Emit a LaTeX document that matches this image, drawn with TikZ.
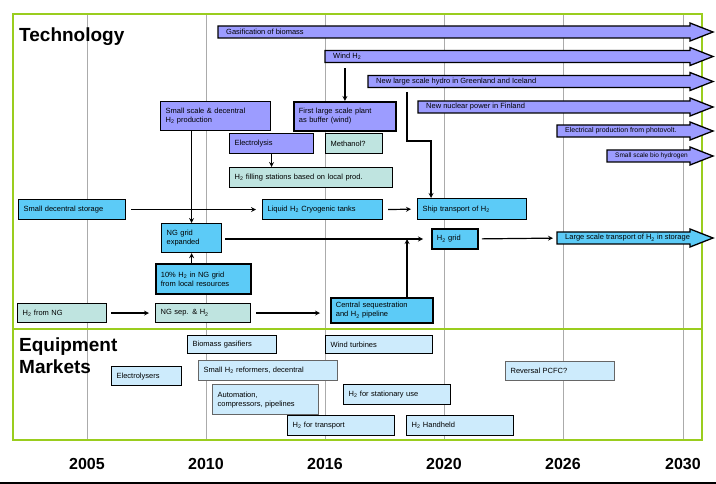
\documentclass[tikz,border=0pt]{standalone}
\usepackage{fontspec}
\setmainfont{Liberation Sans}
\usepackage{tikz}
\usetikzlibrary{calc}

\definecolor{purp}{HTML}{9C9CFF}
\definecolor{cyanb}{HTML}{5CCBF7}
\definecolor{tealb}{HTML}{BFE4E0}
\definecolor{eqb}{HTML}{CDEBFC}
\definecolor{frame}{HTML}{9ACD1E}
\definecolor{gridl}{HTML}{ABABAB}

\newcommand\Htwo{H\textsubscript{2}}

\begin{document}
\begin{tikzpicture}[
  >=stealth,
  x=1pt,y=-1pt,
  box/.style={draw=black,line width=1.2pt,anchor=north west,inner xsep=5pt,inner ysep=0pt,
    align=left,font=\fontsize{7.5}{9}\selectfont},
  boxthick/.style={box,line width=1.8pt},
  eqbox/.style={box,fill=eqb},
  arrowlabel/.style={inner sep=0pt,anchor=west,font=\fontsize{7.5}{9}\selectfont},
  link/.style={->,line width=1.2pt},
  yearlabel/.style={font=\bfseries\fontsize{16}{16}\selectfont}
]

\useasboundingbox (0,0) rectangle (716,484);

\def\timearrow#1#2#3#4#5{
  \draw[fill=#2,line width=1.3pt] (#3,#4-6) -- (690,#4-6) -- (690,#4-9) -- (713,#4)
    -- (690,#4+9) -- (690,#4+6) -- (#3,#4+6) -- cycle;
  \node[arrowlabel] (#1) at (#3+8,#4) {#5};
}

% frame and time lines
\foreach \x in {87,206,325,444,563,683}
  \draw[gridl,line width=1pt] (\x,14) -- (\x,440);
\draw[frame,line width=2pt] (13,14) rectangle (702,440);
\draw[frame,line width=2pt] (13,329) -- (702,329);
\draw[line width=1.5pt] (0,483) -- (716,483);

\node[font=\bfseries\fontsize{19}{19}\selectfont,anchor=west,inner sep=0pt] (tech) at (19,37) {Technology};
\node[font=\bfseries\fontsize{19}{22}\selectfont,anchor=north west,align=left,inner sep=0pt] (equip) at (19,338) {Equipment\\Markets};

\foreach \x/\yr in {87/2005,206/2010,325/2016,444/2020,563/2026,683/2030}
  \node[yearlabel] (y\yr) at (\x,464) {\yr};

% long term lines
\timearrow{gasif}{purp}{218}{32}{Gasification of biomass}
\timearrow{wind}{purp}{325}{56.5}{Wind \Htwo}
\timearrow{hydro}{purp}{368}{81.5}{New large scale hydro in Greenland and Iceland}
\timearrow{nuclear}{purp}{418}{107}{New nuclear power in Finland}
\timearrow{photo}{purp}{557}{131}{\fontsize{7}{8}\selectfont Electrical production from photovolt.}
\timearrow{bio}{purp}{607}{156}{\fontsize{6.5}{8}\selectfont Small scale bio hydrogen}
\timearrow{largetr}{cyanb}{557}{238}{Large scale transport of \Htwo\ in storage}

% technology
\node[box,fill=purp,text width=100,minimum height=29] (smalldec) at (160,101) {Small scale \& decentral\\\Htwo\ production};
\node[boxthick,fill=purp,text width=92,minimum height=29] (firstplant) at (293,101) {First large scale plant\\as buffer (wind)};
\node[box,fill=purp,text width=74,minimum height=20] (electro) at (229,133) {Electrolysis};
\node[box,fill=tealb,text width=47,minimum height=20] (methanol) at (325,133) {Methanol?};
\node[box,fill=tealb,text width=153,minimum height=20] (filling) at (229,167) {\Htwo\ filling stations based on local prod.};
\node[box,fill=cyanb,text width=97,minimum height=20] (storage) at (18,199) {Small decentral storage};
\node[box,fill=cyanb,text width=110,minimum height=20] (liquid) at (262,199) {Liquid \Htwo\ Cryogenic tanks};
\node[box,fill=cyanb,text width=99,minimum height=21] (ship) at (417,198) {Ship transport of \Htwo};
\node[box,fill=cyanb,text width=50,minimum height=29] (ngexp) at (161,223) {NG grid\\expanded};
\node[boxthick,fill=cyanb,text width=36,minimum height=20] (h2grid) at (431,228) {\Htwo\ grid};
\node[boxthick,fill=cyanb,text width=85,minimum height=30] (tenpct) at (155,263) {10\% \Htwo\ in NG grid\\from local resources};
\node[box,fill=tealb,text width=79,minimum height=19] (h2ng) at (17,303) {\Htwo\ from NG};
\node[box,fill=tealb,text width=85,minimum height=19] (ngsep) at (155,303) {NG sep. \& \Htwo};
\node[boxthick,fill=cyanb,text width=92,minimum height=25] (central) at (330,297) {Central sequestration\\and \Htwo\ pipeline};

\coordinate (hydrodrop) at (407,92);
\coordinate (hydrobend) at (431,141);
\coordinate (gridjoin) at (407,239);

\draw[link,shorten <=8pt] (wind.south -| firstplant.north) -- (firstplant.north);
\draw[link] (hydrodrop) |- (hydrobend) -- (ship.north -| hydrobend);
\draw[link] (electro.south) -- (electro.south |- filling.north);
\draw[link,shorten <=5pt,shorten >=6pt] (storage.east) -- (liquid.west);
\draw[link,shorten <=5pt,shorten >=6pt] (liquid.east) -- (ship.west);
\draw[link] (smalldec.south -| ngexp.north) -- (ngexp.north);
\draw[link] (tenpct.north -| ngexp.south) -- (ngexp.south);
\draw[link,shorten <=3pt,shorten >=8pt] (ngexp.east |- gridjoin) -- (h2grid.west |- gridjoin);
\draw[link] (central.north -| gridjoin) -- (gridjoin);
\draw[link,shorten <=3pt,shorten >=12pt] (h2grid.east) -- (largetr.west);
\draw[link,shorten <=4pt,shorten >=6pt] (h2ng.east) -- (ngsep.west);
\draw[link,shorten <=5pt,shorten >=10pt] (ngsep.east) -- (ngsep.east -| central.west);

% equipment markets
\node[eqbox,text width=79,minimum height=18] (gasifiers) at (187,335) {Biomass gasifiers};
\node[eqbox,text width=97,minimum height=18] (turbines) at (325,335) {Wind turbines};
\node[eqbox,text width=60,minimum height=19] (electrolysers) at (111,366) {Electrolysers};
\node[eqbox,draw=black!60,text width=129,minimum height=20] (reformers) at (198,360) {Small \Htwo\ reformers, decentral};
\node[eqbox,draw=black!60,text width=96,minimum height=30] (automation) at (212,384) {Automation,\\compressors, pipelines};
\node[eqbox,text width=97,minimum height=20] (stationary) at (343,384) {\Htwo\ for stationary use};
\node[eqbox,draw=black!60,text width=99,minimum height=19] (reversal) at (505,361) {Reversal PCFC?};
\node[eqbox,text width=97,minimum height=20] (transport) at (287,415) {\Htwo\ for transport};
\node[eqbox,text width=97,minimum height=20] (handheld) at (406,415) {\Htwo\ Handheld};

\end{tikzpicture}
\end{document}
